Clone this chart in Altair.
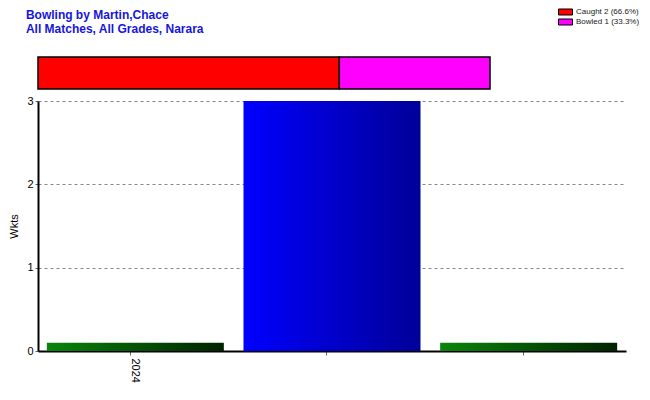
import altair as alt
import pandas as pd

# Data
periods = ["2024", "", ""]
wickets = [0.1, 3, 0.1]
bar_kind = ["green", "blue", "green"]

dismissals = ["Caught", "Bowled"]
dismissal_counts = [2, 1]
dismissal_labels = ["Caught 2 (66.6%)", "Bowled 1 (33.3%)"]
dismissal_colors = ["#FF0000", "#FF00FF"]

FONT = "Liberation Sans"

main_df = pd.DataFrame({
    "idx": list(range(len(periods))),
    "label": periods,
    "wkts": wickets,
    "kind": bar_kind,
})

top_df = pd.DataFrame({
    "how": dismissal_labels,
    "count": dismissal_counts,
    "order": list(range(len(dismissals))),
    "row": ["all"] * len(dismissals),
})

label_expr = "[" + ",".join("'%s'" % p for p in periods) + "][datum.value]"

x_enc = alt.X(
    "idx:O",
    scale=alt.Scale(paddingInner=0.1, paddingOuter=0.045),
    axis=alt.Axis(
        title=None, labelExpr=label_expr, labelAngle=90, labelFont=FONT,
        labelFontSize=11, labelColor="#000000", tickColor="#666666", tickSize=4,
        domainColor="#000000", domainWidth=2, labelPadding=3, bandPosition=0.47,
    ),
)
y_enc = alt.Y(
    "wkts:Q",
    scale=alt.Scale(domain=[0, 3], nice=False),
    axis=alt.Axis(
        title="Wkts", values=[0, 1, 2, 3], format="d", labelFont=FONT,
        labelFontSize=11, labelColor="#000000", titleFont=FONT,
        titleFontSize=11, titleFontWeight="normal", titleColor="#000000",
        tickColor="#666666", tickSize=3, domainColor="#000000", domainWidth=2,
        grid=True, gridDash=[3, 3], gridColor="#888888", gridWidth=1,
        labelPadding=2, titlePadding=7,
    ),
)

green_grad = alt.LinearGradient(
    gradient="linear", x1=0, x2=1, y1=0, y2=0,
    stops=[alt.GradientStop(color="#0A850A", offset=0),
           alt.GradientStop(color="#002200", offset=1)],
)
blue_grad = alt.LinearGradient(
    gradient="linear", x1=0, x2=1, y1=0, y2=0,
    stops=[alt.GradientStop(color="#0000FF", offset=0),
           alt.GradientStop(color="#000098", offset=1)],
)

base = alt.Chart(main_df).encode(x=x_enc, y=y_enc)
green = base.transform_filter(alt.datum.kind == "green").mark_bar(color=green_grad)
blue = base.transform_filter(alt.datum.kind == "blue").mark_bar(color=blue_grad)

main = alt.layer(green, blue).properties(width=588, height=250)

top = alt.Chart(top_df).mark_bar(stroke="#000000", strokeWidth=1.5).encode(
    x=alt.X("count:Q", stack="zero", scale=alt.Scale(domain=[0, 3], nice=False), axis=None),
    y=alt.Y("row:N", axis=None, scale=alt.Scale(paddingInner=0, paddingOuter=0)),
    order=alt.Order("order:Q"),
    color=alt.Color(
        "how:N",
        scale=alt.Scale(domain=dismissal_labels, range=dismissal_colors),
        legend=alt.Legend(
            title=None, orient="none", legendX=520, legendY=-49,
            symbolType="M-1,-0.43H1V0.43H-1Z", symbolSize=196,
            symbolStrokeColor="#000000", symbolStrokeWidth=1,
            labelFont=FONT, labelFontSize=8, labelColor="#222222",
            rowPadding=2, clipHeight=8, labelOffset=3, padding=0,
        ),
    ),
).properties(width=452, height=32)

chart = alt.vconcat(top, main, spacing=12, bounds="flush").properties(
    title=alt.TitleParams(
        text=["Bowling by Martin,Chace", "All Matches, All Grades, Narara"],
        anchor="start", font=FONT, fontSize=12, fontWeight="bold",
        color="#1616DA", offset=-28, lineHeight=14, dx=17,
    ),
    padding={"left": 0, "top": 0, "right": 0, "bottom": 0},
).configure_view(stroke=None)

chart.save("out.html", embed_options={"renderer": "svg", "actions": False})
